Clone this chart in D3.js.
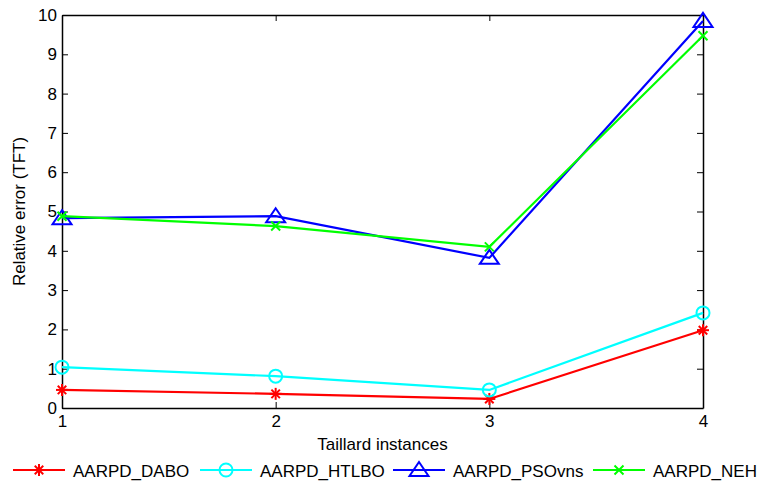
<!DOCTYPE html>
<html lang="en">
  <head>
    <meta charset="UTF-8" />
    <title>Relative error (TFT) on Taillard instances</title>
    <script src="https://cdnjs.cloudflare.com/ajax/libs/d3/7.8.5/d3.min.js"></script>
    <style>
      body { margin: 0; background: #fff; }
      svg { font-family: "Liberation Sans", Arial, sans-serif; }
    </style>
  </head>
  <body>
    <div id="chart"></div>
    <script>
      /** Data */
      const instances = [1, 2, 3, 4];
      const dabo = [0.46, 0.36, 0.23, 1.98];
      const htlbo = [1.04, 0.81, 0.46, 2.42];
      const psovns = [4.83, 4.88, 3.82, 9.85];
      const neh = [4.88, 4.63, 4.1, 9.47];
      const yTicks = [0, 1, 2, 3, 4, 5, 6, 7, 8, 9, 10];

      const series = [
        { name: "AARPD_DABO", values: dabo, color: "#ff0000", marker: "star" },
        { name: "AARPD_HTLBO", values: htlbo, color: "#00ffff", marker: "circle" },
        { name: "AARPD_PSOvns", values: psovns, color: "#0000ff", marker: "triangle" },
        { name: "AARPD_NEH", values: neh, color: "#00ff00", marker: "cross" },
      ];

      /** Graph configs */
      const width = 761;
      const height = 481;
      const plotLeft = 62, plotRight = 703, plotTop = 15, plotBottom = 408;
      const tickLen = 6;
      const font = "17px";

      const xScale = d3.scaleLinear().domain([1, 4]).range([plotLeft, plotRight]);
      const yScale = d3.scaleLinear().domain([0, 10]).range([plotBottom, plotTop]);

      const svg = d3
        .select("#chart")
        .append("svg")
        .attr("width", width)
        .attr("height", height);

      /** Axes (MATLAB style, ticks inward on all four sides) */
      const xAxis = d3.axisBottom(xScale).tickValues(instances).tickSize(-tickLen).tickSizeOuter(0).tickPadding(7).tickFormat(d3.format("d"));
      const yAxis = d3.axisLeft(yScale).tickValues(yTicks).tickSize(-tickLen).tickSizeOuter(0).tickPadding(5);
      const xTop = d3.axisTop(xScale).tickValues(instances).tickSize(-tickLen).tickSizeOuter(0).tickFormat("");
      const yRight = d3.axisRight(yScale).tickValues(yTicks).tickSize(-tickLen).tickSizeOuter(0).tickFormat("");

      const axes = [
        svg.append("g").attr("transform", `translate(0,${plotBottom})`).call(xAxis),
        svg.append("g").attr("transform", `translate(${plotLeft},0)`).call(yAxis),
        svg.append("g").attr("transform", `translate(0,${plotTop})`).call(xTop),
        svg.append("g").attr("transform", `translate(${plotRight},0)`).call(yRight),
      ];
      axes.forEach((g) => {
        g.selectAll("path").attr("stroke", "#000").attr("stroke-width", 1.5);
        g.selectAll("line").attr("stroke", "#000");
        g.selectAll("text").attr("fill", "#000").style("font-size", font);
      });

      /** Axis labels */
      svg.append("text")
        .attr("x", (plotLeft + plotRight) / 2)
        .attr("y", 450)
        .attr("text-anchor", "middle")
        .style("font-size", font)
        .text("Taillard instances");
      svg.append("text")
        .attr("transform", `translate(25,${(plotTop + plotBottom) / 2}) rotate(-90)`)
        .attr("text-anchor", "middle")
        .style("font-size", font)
        .text("Relative error (TFT)");

      /** Markers */
      function drawMarker(g, type, color, x, y) {
        if (type === "star") {
          const r = 6;
          [0, 45, 90, 135].forEach((a) => {
            const rad = (a * Math.PI) / 180;
            g.append("line")
              .attr("x1", x - r * Math.cos(rad)).attr("y1", y - r * Math.sin(rad))
              .attr("x2", x + r * Math.cos(rad)).attr("y2", y + r * Math.sin(rad))
              .attr("stroke", color).attr("stroke-width", 2);
          });
        } else if (type === "circle") {
          g.append("circle").attr("cx", x).attr("cy", y).attr("r", 6.5)
            .attr("fill", "none").attr("stroke", color).attr("stroke-width", 2);
        } else if (type === "triangle") {
          g.append("path")
            .attr("d", `M${x},${y - 8}L${x + 9.5},${y + 6}L${x - 9.5},${y + 6}Z`)
            .attr("fill", "none").attr("stroke", color).attr("stroke-width", 2);
        } else if (type === "cross") {
          const r = 4.5;
          g.append("path")
            .attr("d", `M${x - r},${y - r}L${x + r},${y + r}M${x - r},${y + r}L${x + r},${y - r}`)
            .attr("stroke", color).attr("stroke-width", 2);
        }
      }

      /** Lines */
      const line = d3.line().x((d, i) => xScale(instances[i])).y((d) => yScale(d));
      series.forEach((s) => {
        const g = svg.append("g");
        g.append("path")
          .attr("d", line(s.values))
          .attr("fill", "none")
          .attr("stroke", s.color)
          .attr("stroke-width", 2.2);
        s.values.forEach((v, i) => drawMarker(g, s.marker, s.color, xScale(instances[i]), yScale(v)));
      });

      /** Legend */
      const legendX = [13, 200, 393, 593];
      const legendY = 470;
      series.forEach((s, i) => {
        const g = svg.append("g");
        const x0 = legendX[i];
        g.append("line")
          .attr("x1", x0).attr("x2", x0 + 52)
          .attr("y1", legendY).attr("y2", legendY)
          .attr("stroke", s.color).attr("stroke-width", 2);
        drawMarker(g, s.marker, s.color, x0 + 26, legendY);
        g.append("text")
          .attr("x", x0 + 60)
          .attr("y", legendY + 7)
          .style("font-size", font)
          .text(s.name);
      });
    </script>
  </body>
</html>
